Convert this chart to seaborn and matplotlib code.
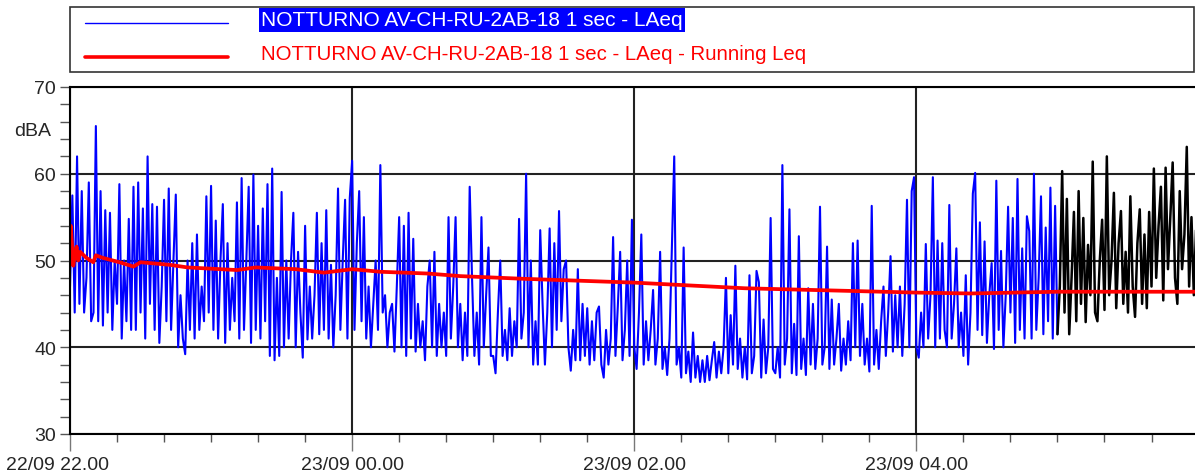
import numpy as np
import pandas as pd
import matplotlib
matplotlib.use("Agg")
import matplotlib.pyplot as plt
import seaborn as sns
from matplotlib.lines import Line2D
from matplotlib.patches import Rectangle
from matplotlib.ticker import MultipleLocator, FixedLocator
from matplotlib.transforms import ScaledTranslation

sns.set_theme(style="white")
plt.rcParams['font.family'] = ['Liberation Sans', 'DejaVu Sans']

# ---- data: LAeq, one value per minute (dBA), per hour ----
h22 = [47, 57.5, 44, 62, 45, 58, 44, 48, 59, 43,
       44, 65.5, 43, 58, 42.5, 55.8, 44, 55.5, 42, 50,
       45, 58.8, 41, 50, 43, 54.8, 42, 58.5, 42, 59,
       44, 56, 41, 62, 45, 56.5, 42, 56.2, 40.5, 47,
       57, 43, 58.3, 42, 50, 57.6, 40, 46, 41, 39.2,
       50, 42, 52, 41, 53, 42, 47, 43, 57.4, 44]
h23 = [58.6, 42, 54.6, 41, 50, 56.5, 40.5, 52, 42, 48,
       43, 56.7, 41, 59.5, 42, 50, 58.5, 40.5, 59.9, 42,
       54, 41, 56, 43, 58.8, 39, 60.6, 38.5, 48, 39,
       57.9, 40, 50, 41, 50, 55.5, 40, 51, 44, 38.8,
       54, 40.9, 47, 41, 46, 55.5, 41.5, 52, 42, 55.8,
       41, 49.5, 40, 46, 58.3, 42, 50, 57, 41, 57.2]
h00 = [61.5, 42, 52, 58, 43, 55, 41, 47, 40, 45,
       50, 42, 61, 44, 46, 40, 44, 45, 39.5, 47,
       55, 40, 54, 39, 55.5, 41, 52.5, 39.5, 45, 40,
       43, 38.5, 47, 50, 40, 51, 39, 45, 40, 44,
       39, 55, 41, 47, 55, 40, 45, 38.5, 44, 39,
       58.5, 48, 39, 44, 38, 55, 40, 46, 51.5, 39]
h01 = [39, 37, 44, 50, 39, 42, 38.5, 44.5, 39, 43,
       40, 54.8, 41, 44, 60, 40, 50, 38, 43, 38,
       53.5, 45, 38, 44, 53.7, 40, 52, 42, 55.7, 43,
       49, 50, 40, 37.3, 42, 38.5, 49, 38.5, 45, 39,
       44.5, 38, 43, 38.5, 44, 44.7, 38, 36.5, 42, 38,
       41, 52.7, 39, 44.7, 51, 38.5, 42, 50, 39, 54.7]
h02 = [40, 37.5, 44, 53, 38, 43, 38.5, 42, 46.6, 38,
       41, 51, 37.5, 40, 36.8, 41, 51.6, 62, 38, 40,
       36.5, 51.5, 37, 39.5, 36, 41.7, 36.5, 39, 36, 38.5,
       36, 39, 36.2, 38.5, 40.6, 36.5, 39.5, 37, 40, 48,
       37, 43.7, 38, 49.4, 37.5, 41, 36.5, 40, 36.3, 48.3,
       37, 39, 48.8, 47.5, 36.5, 43.2, 37, 40, 54.9, 37.5]
h03 = [37, 40, 36.5, 61, 38, 41, 55.9, 37, 42.7, 36.8,
       52.8, 37.5, 41, 36.8, 46.8, 38, 45, 37.5, 41, 56.2,
       38, 40, 51.6, 37.5, 45.5, 38, 41, 45, 37.3, 41,
       38, 43, 38.5, 52, 40, 52.3, 39, 45, 38, 41,
       37.2, 56.3, 38, 42, 37.5, 43, 47, 39, 44, 50.5,
       39.5, 46, 40, 47, 39, 45, 57, 40, 58, 59.6]
h04 = [40, 38.8, 44, 40, 51.9, 41, 46, 59.6, 40, 52.3,
       41, 52, 42, 40, 56.4, 41, 45, 51.4, 40, 44,
       39, 48.3, 38, 44, 57.7, 60.1, 42, 54.4, 41.4, 52.2,
       40.5, 46, 49.7, 39.8, 59.2, 42, 51.1, 40, 46, 56.2,
       44, 54.9, 40.5, 59.4, 42, 51.4, 41, 55.1, 53.4, 41,
       60, 42, 48, 57.4, 41.5, 53.8, 43, 58.4, 41, 56.3]
h05 = [41.5, 47, 60.3, 44, 57.1, 41.5, 48, 55.6, 43, 58,
       45, 54.9, 42.9, 51.8, 46, 61.4, 44, 43, 50, 54.7,
       44.3, 62, 46, 50, 57.8, 44.5, 52, 55.7, 45, 51,
       44, 57.4, 47, 43.5, 52, 55.9, 45, 53, 44.5, 55.6,
       47, 60.6, 48, 54, 58.5, 45.4, 60.7, 49, 55, 61.3,
       48, 45, 58, 49, 53, 63.1, 47, 55, 46, 54.1]

# running Leq (minutes from 22:00, dBA)
leq_min = [0, 0.3, 0.8, 1.4, 2.0, 2.8, 3.5, 4.3, 7, 9.9, 11, 14, 21, 27, 30,
           42.5, 50, 71, 79, 96, 108, 120, 132, 152, 166, 192, 240, 287,
           360, 383, 420, 479]
leq_val = [49.5, 54, 52, 49.4, 50.5, 51.6, 50, 51, 50.3, 49.8, 50.6, 50.3,
           49.8, 49.3, 49.8, 49.5, 49.2, 48.9, 49.2, 49, 48.6, 49, 48.7,
           48.5, 48.2, 47.9, 47.45, 46.8, 46.3, 46.2, 46.4, 46.4]

selection_start = 420  # 05:00, part drawn in black

x_tick_pos = [0, 120, 240, 360]
x_tick_labels = ['22/09 22.00', '23/09 00.00', '23/09 02.00', '23/09 04.00']
y_ticks = [30, 40, 50, 60, 70]
legend_labels = ['NOTTURNO AV-CH-RU-2AB-18 1 sec - LAeq',
                 'NOTTURNO AV-CH-RU-2AB-18 1 sec - LAeq - Running Leq']
y_unit = 'dBA'

# ---- build frames ----
laeq = h22 + h23 + h00 + h01 + h02 + h03 + h04 + h05
df = pd.DataFrame({'min': np.arange(len(laeq)), 'laeq': laeq})
blue_df = df[df['min'] <= selection_start]
black_df = df[df['min'] >= selection_start]
leq_df = pd.DataFrame({'min': leq_min, 'leq': leq_val})

W, H = 1195, 477
fig = plt.figure(figsize=(W / 100, H / 100), dpi=100)
ax = fig.add_axes([70 / W, 42 / H, 1125 / W, 347 / H])

sns.lineplot(data=blue_df, x='min', y='laeq', color='#0000ff', lw=1.5,
             estimator=None, sort=False, ax=ax)
sns.lineplot(data=black_df, x='min', y='laeq', color='black', lw=1.8,
             estimator=None, sort=False, ax=ax)
sns.lineplot(data=leq_df, x='min', y='leq', color='#ff0000', lw=2.7,
             estimator=None, sort=False, ax=ax)

ax.set_xlim(0, 478.5)
ax.set_ylim(30, 70)
ax.set_xlabel('')
ax.set_ylabel('')
ax.xaxis.set_major_locator(FixedLocator(x_tick_pos))
ax.set_xticklabels(x_tick_labels)
ax.xaxis.set_minor_locator(MultipleLocator(20))
ax.yaxis.set_major_locator(FixedLocator(y_ticks))
ax.set_yticklabels([str(v) for v in y_ticks])
ax.yaxis.set_minor_locator(MultipleLocator(2))

ax.grid(True, which='major', color='#222222', lw=1.5)
ax.grid(False, which='minor')
for side in ['left', 'bottom', 'top']:
    ax.spines[side].set_color('black')
    ax.spines[side].set_linewidth(1.5)
ax.spines['right'].set_visible(False)

ax.tick_params(axis='y', which='both', direction='out', length=7, width=1,
               color='#555555', labelsize=14, pad=3, left=True)
ax.tick_params(axis='x', which='major', direction='out', length=12, width=1,
               color='#777777', labelsize=14, pad=4, bottom=True)
ax.tick_params(axis='x', which='minor', direction='out', length=6, width=1,
               color='#555555', bottom=True)

# first date label sits a little to the left of its tick
first = ax.get_xticklabels()[0]
first.set_transform(first.get_transform() + ScaledTranslation(-12 / 100, 0, fig.dpi_scale_trans))

fig.text(14 / W, 1 - 132 / H, y_unit, ha='left', va='center', fontsize=14)

# ---- legend box ----
fig.add_artist(Rectangle((70 / W, 1 - 73 / H), 1124 / W, 65 / H,
                         transform=fig.transFigure, fill=False,
                         ec='#333333', lw=1.2))
fig.add_artist(Line2D([85 / W, 228 / W], [1 - 24 / H] * 2, color='#0000ff',
                      lw=1.0, transform=fig.transFigure))
fig.add_artist(Line2D([85 / W, 228 / W], [1 - 58 / H] * 2, color='#ff0000',
                      lw=2.6, transform=fig.transFigure))
fig.text(261 / W, 1 - 21 / H, legend_labels[0], color='white', fontsize=15,
         ha='left', va='center',
         bbox=dict(facecolor='#0000ff', edgecolor='none', pad=1.5))
fig.text(261 / W, 1 - 55 / H, legend_labels[1], color='#ff0000', fontsize=14.7,
         ha='left', va='center')

fig.savefig('out.png', dpi=100)
